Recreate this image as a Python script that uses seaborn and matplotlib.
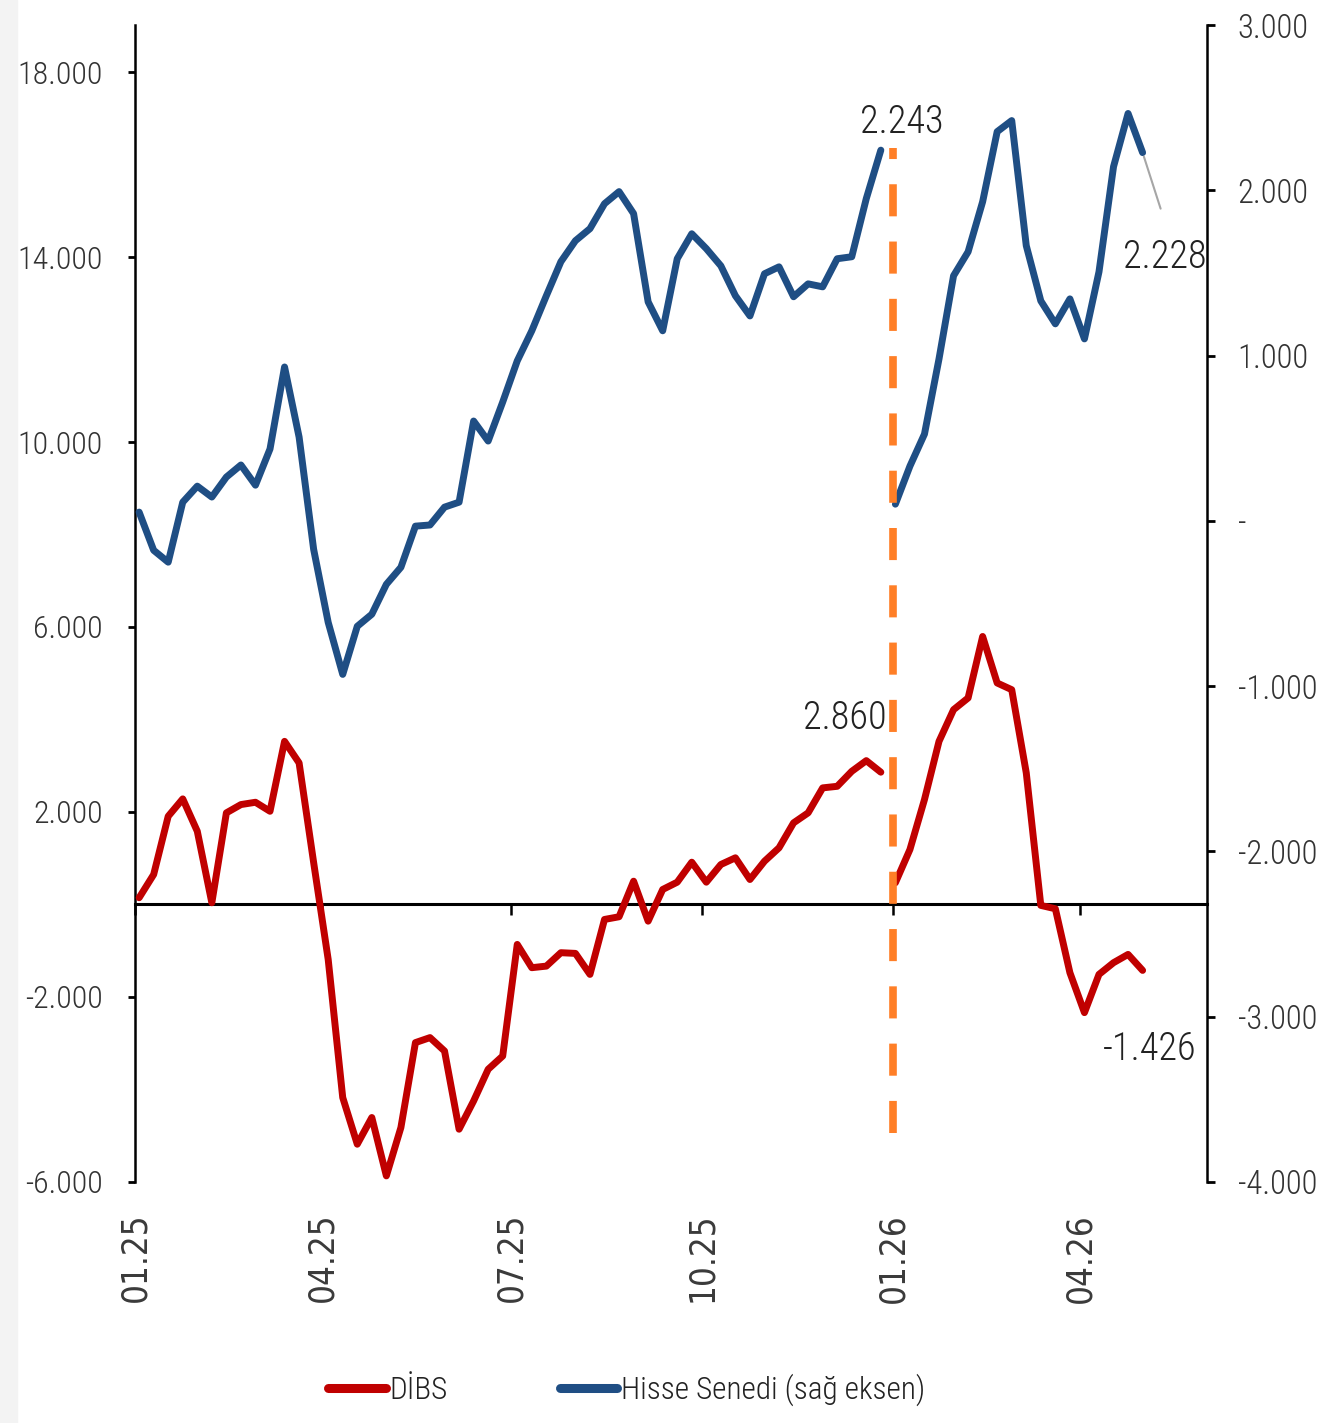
import pandas as pd
import matplotlib
matplotlib.use("Agg")
import matplotlib.pyplot as plt
from matplotlib import font_manager as fm
from matplotlib.lines import Line2D
from matplotlib.patches import Rectangle
from matplotlib.ticker import FuncFormatter
import seaborn as sns

# yil basindan itibaren kumulatif haftalik akim
dibs_2025 = [145, 648, 1907, 2283, 1583, 37, 1981, 2160, 2210, 2015,
             3527, 3061, 907, -1188, -4175, -5184, -4607, -5869, -4823, -2987,
             -2879, -3169, -4860, -4249, -3564, -3277, -864, -1367, -1333, -1043,
             -1058, -1512, -324, -266, 503, -361, 324, 482, 914, 482,
             864, 1009, 540, 935, 1225, 1765, 1981, 2521, 2555, 2879,
             3110, 2860]
hisse_2025 = [53, -178, -250, 113, 210, 144, 265, 338, 216, 435,
              931, 507, -172, -614, -929, -638, -565, -384, -281, -32,
              -25, 83, 113, 604, 483, 719, 968, 1150, 1362, 1568,
              1695, 1768, 1919, 1992, 1859, 1325, 1150, 1586, 1737, 1647,
              1543, 1362, 1240, 1495, 1537, 1356, 1434, 1416, 1586, 1598,
              1950, 2243]
dibs_2026 = [469, 1188, 2268, 3527, 4212, 4465, 5795, 4789, 4644, 2845,
             -20, -93, -1475, -2339, -1512, -1259, -1080, -1426]
hisse_2026 = [101, 331, 525, 980, 1483, 1628, 1931, 2355, 2422, 1665,
              1331, 1192, 1343, 1101, 1507, 2143, 2465, 2228]

tarih_2025 = pd.date_range("2025-01-03", periods=len(dibs_2025), freq="7D")
tarih_2026 = pd.date_range("2026-01-02", periods=len(dibs_2026), freq="7D")

ceyrekler = pd.to_datetime(["2025-01-01", "2025-04-01", "2025-07-01",
                            "2025-10-01", "2026-01-01", "2026-04-01"])
ceyrek_etiket = ["01.25", "04.25", "07.25", "10.25", "01.26", "04.26"]
sol_ticks = [-6000, -2000, 2000, 6000, 10000, 14000, 18000]
sag_ticks = [-4000, -3000, -2000, -1000, 0, 1000, 2000, 3000]

KIRMIZI = "#C00000"
MAVI = "#1F4E84"
TURUNCU = "#FF7F27"
YAZI = "#222222"


def dar_font_bul():
    # varsa dar (condensed) bir yazi tipi kullan
    for aile in ["Liberation Sans Narrow", "Noto Sans", "Open Sans", "Roboto", "DejaVu Sans"]:
        for f in fm.fontManager.ttflist:
            if f.style != "normal" or f.weight not in (400, "normal", "regular"):
                continue
            if f.name == aile and (aile.endswith("Narrow") or "condensed" in str(f.stretch)):
                return f.name, f.stretch
            if f.name == aile + " Condensed":
                return f.name, f.stretch
    return None


dar = dar_font_bul()
sns.set_style("white")
if dar is not None:
    plt.rcParams["font.family"] = [dar[0], "DejaVu Sans"]
    plt.rcParams["font.stretch"] = dar[1]
    plt.rcParams["font.weight"] = "light"
    k = 1.0 if dar[0] == "Liberation Sans Narrow" else 0.92
else:
    plt.rcParams["font.family"] = ["Liberation Sans", "DejaVu Sans"]
    k = 0.82


def binlik(v, pos=None):
    if v == 0:
        return "-"
    return f"{v:,.0f}".replace(",", ".")


fig = plt.figure(figsize=(13.18, 14.23), dpi=100)
fig.patches.append(Rectangle((0, 0), 17 / 1318, 1, transform=fig.transFigure,
                             color="#f3f3f3", zorder=0))
ax = fig.add_axes([0.1024, 0.1694, 0.8134, 0.813])
ax2 = ax.twinx()

sns.lineplot(x=tarih_2025, y=dibs_2025, ax=ax, color=KIRMIZI, zorder=3)
sns.lineplot(x=tarih_2026, y=dibs_2026, ax=ax, color=KIRMIZI, zorder=3)
sns.lineplot(x=tarih_2025, y=hisse_2025, ax=ax2, color=MAVI, zorder=3)
sns.lineplot(x=tarih_2026, y=hisse_2026, ax=ax2, color=MAVI, zorder=3)
for line in ax.lines + ax2.lines:
    line.set_linewidth(5)
    line.set_solid_joinstyle("round")
    line.set_solid_capstyle("round")

# yil gecisi
ax2.axvline(pd.Timestamp("2026-01-01"), ymin=0.042, ymax=0.894, color=TURUNCU,
            linewidth=5.5, linestyle=(0, (4.2, 3.3)), zorder=5)

ax.set_xlim(pd.Timestamp("2025-01-01"), pd.Timestamp("2026-06-01"))
ax.set_ylim(-6000, 19016)
ax2.set_ylim(-4000, 3000)

for s in ["top", "right"]:
    ax.spines[s].set_visible(False)
for s in ["top", "left", "bottom"]:
    ax2.spines[s].set_visible(False)
ax.spines["bottom"].set_position(("data", 0))
ax.spines["bottom"].set_linewidth(2.2)
ax.spines["bottom"].set_color("black")
ax.spines["left"].set_linewidth(1.8)
ax.spines["left"].set_color("black")
ax2.spines["right"].set_linewidth(1.8)
ax2.spines["right"].set_color("black")

ax.tick_params(axis="x", bottom=True, direction="out", length=8, width=1.8, pad=214,
               color="black", labelrotation=90, labelsize=25, labelcolor="#3a3a3a",
               labelfontfamily="DejaVu Sans")
ax.tick_params(axis="y", left=True, direction="out", length=5, width=2, pad=18,
               labelsize=25 * k, labelcolor="#333333", color="black")
ax2.tick_params(axis="y", right=True, direction="out", length=6, width=2, pad=16,
                labelsize=25.5 * k, labelcolor="#333333", color="black")

ax.set_yticks(sol_ticks)
ax.yaxis.set_major_formatter(FuncFormatter(binlik))
ax2.set_yticks(sag_ticks)
ax2.yaxis.set_major_formatter(FuncFormatter(binlik))
ax.set_xticks(ceyrekler)
ax.set_xticklabels(ceyrek_etiket)
for lbl in ax.get_xticklabels():
    lbl.set_fontweight("normal")
ax.set_xlabel("")
ax.set_ylabel("")
ax2.set_ylabel("")

# son deger etiketleri
ets = 30 * k
ax2.annotate(binlik(hisse_2025[-1]), xy=(tarih_2025[-1], hisse_2025[-1]),
             xytext=(21, 17), textcoords="offset pixels", ha="center", va="baseline",
             fontsize=ets, color=YAZI)
ax.annotate(binlik(dibs_2025[-1]), xy=(tarih_2025[-1], dibs_2025[-1]),
            xytext=(-36, 43), textcoords="offset pixels", ha="center", va="baseline",
            fontsize=ets, color=YAZI)
ax2.annotate(binlik(hisse_2026[-1]), xy=(tarih_2026[-1], hisse_2026[-1]),
             xytext=(22, -115), textcoords="offset pixels", ha="center", va="baseline",
             fontsize=ets, color=YAZI)
ax2.annotate("", xy=(tarih_2026[-1], hisse_2026[-1]),
             xytext=(18, -56), textcoords="offset pixels",
             arrowprops=dict(arrowstyle="-", color="#a6a6a6", lw=1.5,
                             shrinkA=0, shrinkB=3))
ax.annotate(binlik(dibs_2026[-1]), xy=(tarih_2026[-1], dibs_2026[-1]),
            xytext=(7, -90), textcoords="offset pixels", ha="center", va="baseline",
            fontsize=ets, color=YAZI)

handles = [Line2D([], [], color=KIRMIZI, linewidth=6.5),
           Line2D([], [], color=MAVI, linewidth=6.5)]
fig.legend(handles, ["DİBS", "Hisse Senedi (sağ eksen)"], loc="center",
           bbox_to_anchor=(0.4753, 0.0232), ncol=2, frameon=False, fontsize=24.5 * k,
           handlelength=1.7 / k, handletextpad=0.1, columnspacing=3.3 / k,
           labelcolor=YAZI)

fig.savefig("out.png", dpi=100)
